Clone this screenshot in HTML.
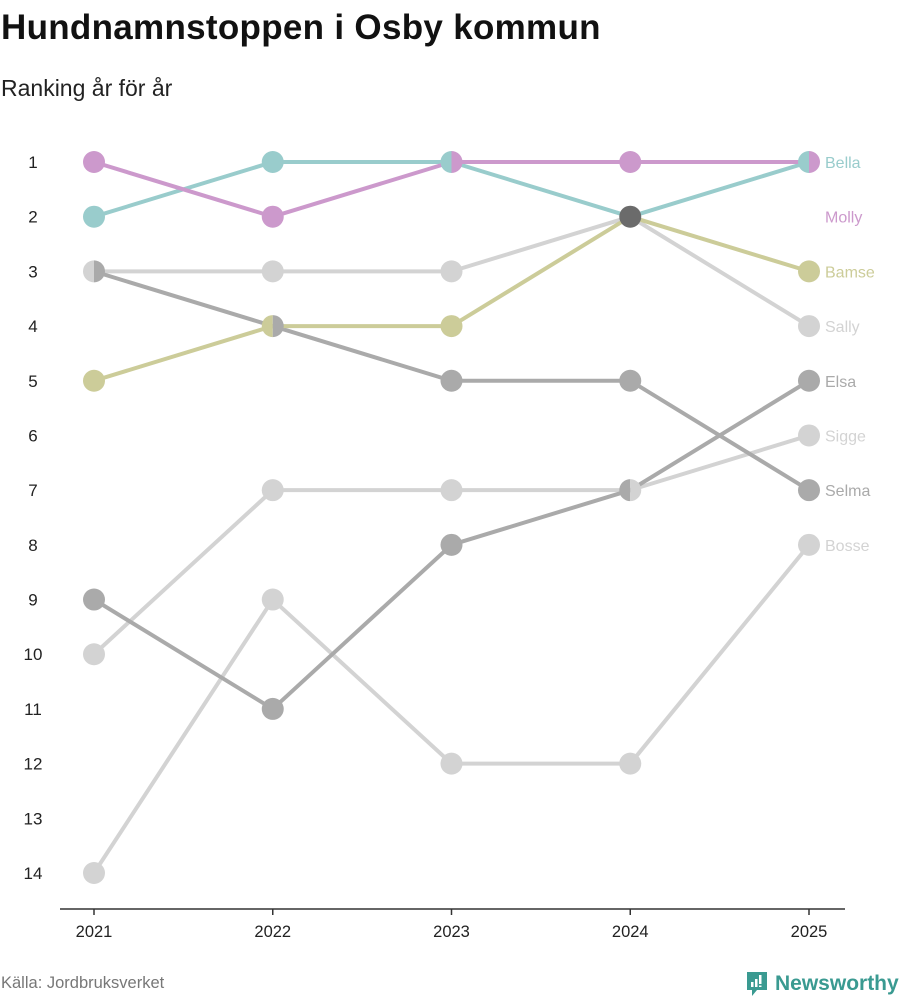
<!DOCTYPE html>
<html><head><meta charset="utf-8">
<style>
body{margin:0;background:#fff;font-family:"Liberation Sans",sans-serif;}
#wrap{position:relative;width:900px;height:1000px;overflow:hidden;}
h1{position:absolute;left:1px;top:8px;margin:0;font-size:35px;font-weight:bold;color:#111;letter-spacing:0.3px;}
.sub{position:absolute;left:1px;top:75px;font-size:23px;color:#222;}
.src{position:absolute;left:1px;top:974px;font-size:16.5px;color:#777;}
.logo{position:absolute;left:745px;top:970px;display:flex;align-items:center;gap:6px;color:#3a9a91;font-size:21px;font-weight:bold;}
</style></head><body>
<div id="wrap">
<h1>Hundnamnstoppen i Osby kommun</h1>
<div class="sub">Ranking år för år</div>
<svg id="chart" width="900" height="1000" style="position:absolute;left:0;top:0"></svg>
<div class="src">Källa: Jordbruksverket</div>
<div class="logo">
<svg width="24" height="28" viewBox="0 0 24 28"><path d="M2 2h20v18H12l-5 6v-6H2z" fill="#3a9a91"/><rect x="6" y="12" width="2.5" height="5" fill="#fff"/><rect x="10" y="9" width="2.5" height="8" fill="#fff"/><rect x="14" y="5" width="2.5" height="9" fill="#fff"/><rect x="14" y="15.5" width="2.5" height="1.5" fill="#fff"/></svg>
<span>Newsworthy</span></div>
</div>
<script>
const years = ["2021","2022","2023","2024","2025"];
const names = ["Bella","Molly","Bamse","Sally","Elsa","Sigge","Selma","Bosse"];
const colors = ["#99cccc","#cc99cc","#cccc99","#d3d3d3","#aaaaaa","#d3d3d3","#aaaaaa","#d3d3d3"];
const rankBella = [2,1,1,2,1];
const rankMolly = [1,2,1,1,1];
const rankBamse = [5,4,4,2,3];
const rankSally = [3,3,3,2,4];
const rankElsa = [9,11,8,7,5];
const rankSigge = [10,7,7,7,6];
const rankSelma = [3,4,5,5,7];
const rankBosse = [14,9,12,12,8];
const series = [rankBella,rankMolly,rankBamse,rankSally,rankElsa,rankSigge,rankSelma,rankBosse];
const yTicks = [1,2,3,4,5,6,7,8,9,10,11,12,13,14];

const NS="http://www.w3.org/2000/svg";
const svg=document.getElementById('chart');
const x=i=>94+i*(809-94)/(years.length-1);
const y=r=>162+(r-1)*(873-162)/13;
function mk(t,a){const e=document.createElementNS(NS,t);for(const k in a)e.setAttribute(k,a[k]);svg.appendChild(e);return e;}

yTicks.forEach(r=>{const t=mk('text',{x:33,y:y(r)+6,'text-anchor':'middle','font-size':17,fill:'#222'});t.textContent=r;

});
const ax=mk('line',{x1:60,x2:845,y1:909,y2:909,stroke:'#333','stroke-width':1.5});


years.forEach((yr,i)=>{mk('line',{x1:x(i),x2:x(i),y1:909,y2:915,stroke:'#333','stroke-width':1.5});
const t=mk('text',{x:x(i),y:937,'text-anchor':'middle','font-size':16.5,fill:'#222'});t.textContent=yr;

});
const order=[3,5,7,4,6,2,0,1];
order.forEach(s=>{const d=series[s].map((r,i)=>(i?'L':'M')+x(i)+' '+y(r)).join(' ');
const p=mk('path',{d,fill:'none',stroke:colors[s],'stroke-width':4,'stroke-linejoin':'round'});

});
years.forEach((yr,i)=>{const groups={};
series.forEach((sr,s)=>{(groups[sr[i]]=groups[sr[i]]||[]).push(s);});
Object.keys(groups).forEach(r=>{const g=groups[r];const cx=x(i),cy=y(+r),R=11;
if(g.length===1){const c=mk('circle',{cx,cy,r:R,fill:colors[g[0]]});

}
else if(g.length===2){
const a=mk('path',{d:`M${cx} ${cy-R}A${R} ${R} 0 0 0 ${cx} ${cy+R}Z`,fill:colors[g[0]]});


const b=mk('path',{d:`M${cx} ${cy-R}A${R} ${R} 0 0 1 ${cx} ${cy+R}Z`,fill:colors[g[1]]});

}
else{const c=mk('circle',{cx,cy,r:R,fill:'#6b6b6b'});

}
});});
const used={};const last=years.length-1;
[0,1,2,3,4,5,6,7].forEach(s=>{let r=series[s][last];while(used[r])r++;used[r]=1;
const t=mk('text',{x:825,y:y(r)+6,'font-size':16,fill:colors[s]});t.textContent=names[s];

});
</script>
</body></html>
